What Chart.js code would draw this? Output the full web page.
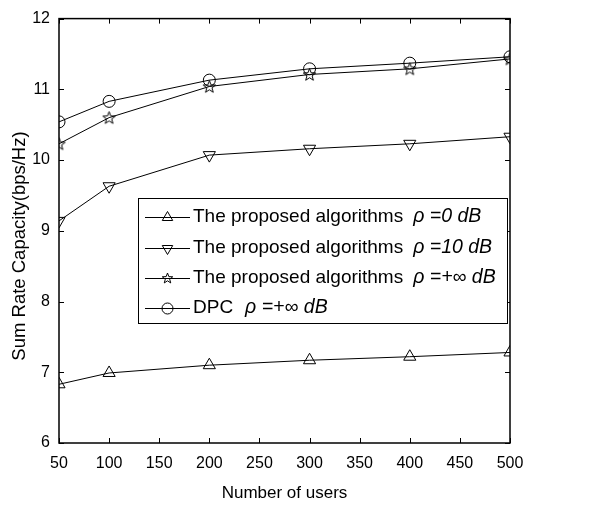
<!DOCTYPE html>
<html>
<head>
<meta charset="utf-8">
<style>
  body { margin: 0; background: #fff; }
  canvas { display: block; }
</style>
<script src="https://cdn.jsdelivr.net/npm/chart.js@4.4.0/dist/chart.umd.min.js"></script>
</head>
<body>
<canvas id="myChart" width="608" height="505"></canvas>
<script>
const users = [50, 100, 200, 300, 400, 500];
const rho0 = [6.83, 6.99, 7.10, 7.17, 7.22, 7.28];
const rho10 = [9.14, 9.63, 10.07, 10.16, 10.23, 10.33];
const rhoInf = [10.23, 10.60, 11.04, 11.21, 11.29, 11.43];
const dpc = [10.54, 10.83, 11.13, 11.29, 11.37, 11.46];

const legendNames = ['The proposed algorithms', 'The proposed algorithms', 'The proposed algorithms', 'DPC'];
const legendRho = ['\u03C1 =0 dB', '\u03C1 =10 dB', '\u03C1 =+\u221E dB', '\u03C1 =+\u221E dB'];

const FONT = '"Liberation Sans", Arial, Helvetica, sans-serif';

// five point star outline as image marker
function starPath(c, x, y, r) {
  c.beginPath();
  for (let i = 0; i < 10; i++) {
    const rr = i % 2 === 0 ? r : r * 0.42;
    const a = -Math.PI / 2 + i * Math.PI / 5;
    const px = x + rr * Math.cos(a), py = y + rr * Math.sin(a);
    if (i === 0) c.moveTo(px, py); else c.lineTo(px, py);
  }
  c.closePath();
}
const starImg = document.createElement('canvas');
starImg.width = 15; starImg.height = 15;
(function () {
  const c = starImg.getContext('2d');
  c.strokeStyle = '#000';
  c.lineWidth = 1;
  starPath(c, 7.5, 8, 6.5);
  c.stroke();
})();

function toPts(ys) {
  return users.map((u, i) => ({ x: u, y: ys[i] }));
}

function series(ys, style, radius, rot) {
  return {
    data: toPts(ys),
    borderColor: '#000',
    borderWidth: 1,
    pointStyle: style,
    pointRotation: rot || 0,
    pointRadius: radius,
    pointBorderColor: '#000',
    pointBorderWidth: 1,
    pointBackgroundColor: 'rgba(0,0,0,0)',
    tension: 0,
    fill: false
  };
}

// markers for the hand drawn legend
function drawMarker(c, kind, x, y) {
  c.save();
  c.strokeStyle = '#000';
  c.lineWidth = 1;
  if (kind === 'up' || kind === 'down') {
    const r = 6, s = kind === 'up' ? 1 : -1;
    c.beginPath();
    c.moveTo(x, y - s * r);
    c.lineTo(x - r * 0.87, y + s * r * 0.5);
    c.lineTo(x + r * 0.87, y + s * r * 0.5);
    c.closePath();
    c.stroke();
  } else if (kind === 'star') {
    starPath(c, x, y, 5.5);
    c.stroke();
  } else {
    c.beginPath();
    c.arc(x, y, 5.5, 0, Math.PI * 2);
    c.stroke();
  }
  c.restore();
}

const framePlugin = {
  id: 'frame',
  afterDraw(chart) {
    const c = chart.ctx, a = chart.chartArea;
    const xs = chart.scales.x, ys = chart.scales.y;
    c.save();
    c.strokeStyle = '#000';
    c.lineWidth = 1.5;
    c.strokeRect(a.left, a.top, a.right - a.left, a.bottom - a.top);
    c.lineWidth = 1;
    c.beginPath();
    xs.ticks.forEach(t => {
      const px = Math.round(xs.getPixelForValue(t.value)) + 0.5;
      c.moveTo(px, a.bottom); c.lineTo(px, a.bottom - 5);
      c.moveTo(px, a.top); c.lineTo(px, a.top + 5);
    });
    ys.ticks.forEach(t => {
      const py = Math.round(ys.getPixelForValue(t.value)) + 0.5;
      c.moveTo(a.left, py); c.lineTo(a.left + 5, py);
      c.moveTo(a.right, py); c.lineTo(a.right - 5, py);
    });
    c.stroke();

    // axis titles
    c.fillStyle = '#000';
    c.font = '17px ' + FONT;
    c.textAlign = 'center';
    c.textBaseline = 'middle';
    c.fillText('Number of users', (a.left + a.right) / 2, 493);
    c.save();
    c.translate(20, 246);
    c.rotate(-Math.PI / 2);
    c.font = '18.5px ' + FONT;
    c.fillText('Sum Rate Capacity(bps/Hz)', 0, 0);
    c.restore();

    // legend box
    const bx = 138, by = 198, bw = 369, bh = 125;
    c.fillStyle = '#fff';
    c.fillRect(bx, by, bw, bh);
    c.strokeRect(bx + 0.5, by + 0.5, bw, bh);
    const kinds = ['up', 'down', 'star', 'circle'];
    const rows = [217, 248, 278, 308];
    kinds.forEach((k, i) => {
      const y = rows[i];
      c.beginPath();
      c.moveTo(145, y + 0.5); c.lineTo(190, y + 0.5);
      c.stroke();
      drawMarker(c, k, 167.5, y + 0.5);
      c.fillStyle = '#000';
      c.textAlign = 'left';
      c.font = '19px ' + FONT;
      c.fillText(legendNames[i], 193, y);
      const w = c.measureText(legendNames[i]).width;
      c.font = 'italic 19.5px ' + FONT;
      c.fillText(legendRho[i], 193 + w + (i === 3 ? 12 : 10), y);
    });
    c.restore();
  }
};

new Chart(document.getElementById('myChart'), {
  type: 'line',
  data: {
    datasets: [
      series(rho0, 'triangle', 7),
      series(rho10, 'triangle', 7, 180),
      series(rhoInf, starImg, 7),
      series(dpc, 'circle', 6)
    ]
  },
  options: {
    responsive: false,
    animation: false,
    layout: { padding: { top: 13, right: 98, left: 0, bottom: 0 } },
    plugins: {
      legend: { display: false },
      tooltip: { enabled: false }
    },
    scales: {
      x: {
        type: 'linear',
        min: 50,
        max: 500,
        afterFit: s => { s.height = 62; },
        grid: { drawOnChartArea: false, drawTicks: false },
        border: { display: false },
        ticks: { stepSize: 50, color: '#000', padding: 11, font: { family: FONT, size: 16 } }
      },
      y: {
        min: 6,
        max: 12,
        afterFit: s => { s.width = 59; },
        grid: { drawOnChartArea: false, drawTicks: false },
        border: { display: false },
        ticks: { stepSize: 1, color: '#000', padding: 9, font: { family: FONT, size: 16 } }
      }
    }
  },
  plugins: [framePlugin]
});
</script>
</body>
</html>
